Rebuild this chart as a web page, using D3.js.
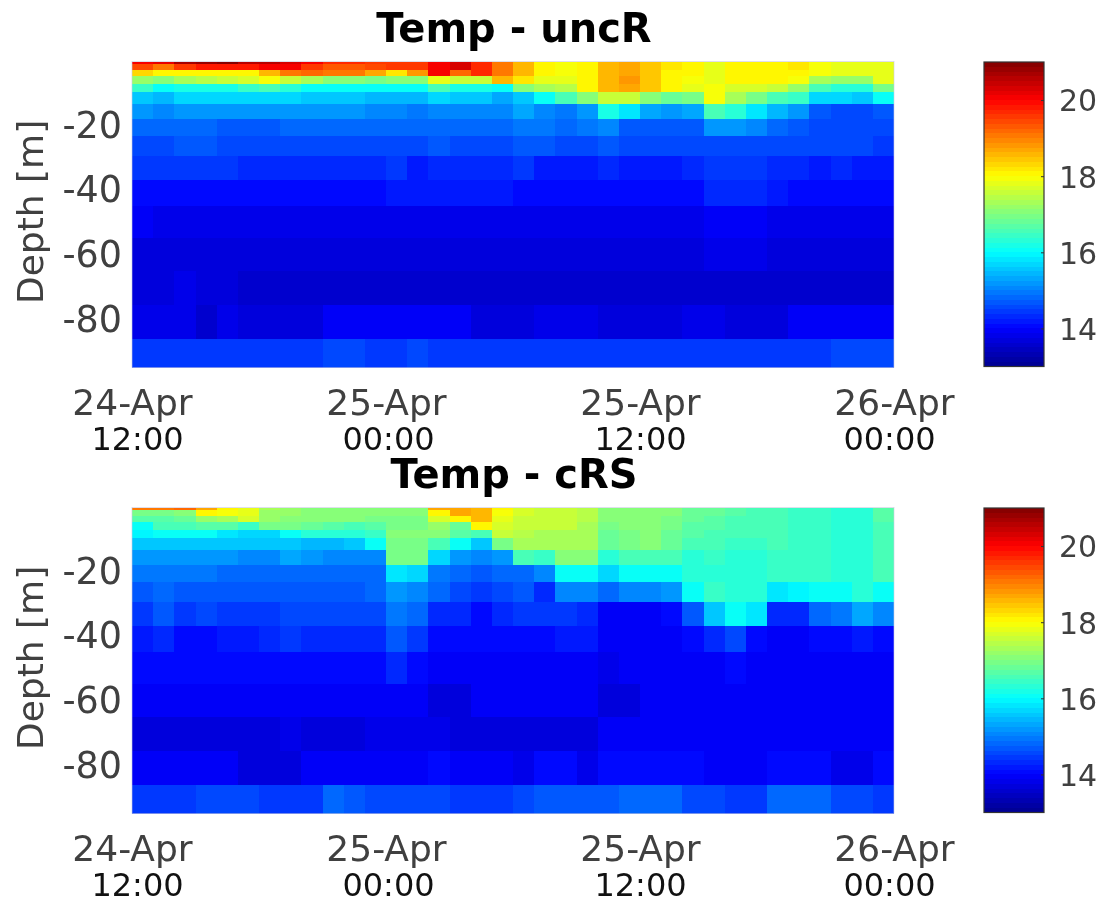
<!DOCTYPE html>
<html>
<head>
<meta charset="utf-8">
<script src="https://cdn.jsdelivr.net/npm/d3@7"></script>
<style>
    html, body { margin: 0; padding: 0; background: #fff; overflow: hidden; }
    svg { display: block; filter: blur(0.7px); }
    text { font-family: "DejaVu Sans", sans-serif; }
</style>
</head>
<body>
<div id="chart"></div>
<script>
// layer edges in metres
const depthEdges = [-0.7, -1.6, -3.3, -5.3, -7.7, -10.2, -13.9, -18.4, -23.6, -29.8, -37.3, -45.5, -55.3, -65.6, -76.1, -86.4, -95.3];
const hoursPerColumn = 1;
const depthTicks = [-20, -40, -60, -80];
const timeTicks = [0, 12, 24, 36];
const dateLabels = ["24-Apr", "25-Apr", "25-Apr", "26-Apr"];
const hourLabels = ["12:00", "00:00", "12:00", "00:00"];
const colorTicks = [14, 16, 18, 20];
const titles = ["Temp - uncR", "Temp - cRS"];

// temperature, one row per layer top to bottom, one value per hour
const tempUncR = [
    [20.1,20.2,20.7,20.8,20.9,20.6,20.5,20.3,20.1,19.7,19.7,19.6,19.6,19.6,20.0,20.3,19.7,19.1,18.6,18.05,17.9,18.0,18.6,18.7,18.4,18.15,18.0,17.85,18.0,18.1,18.1,18.15,17.95,17.85,17.8,17.75],
    [19.4,19.0,19.6,19.8,19.8,19.8,20.0,20.0,19.5,19.3,19.3,19.4,19.5,19.5,20.0,20.3,19.7,19.0,18.6,18.05,17.9,18.0,18.6,18.7,18.4,18.15,18.0,17.85,18.0,18.1,18.1,18.15,17.95,17.85,17.8,17.75],
    [18.3,18.1,18.1,18.0,18.0,18.1,18.6,19.0,19.2,19.1,19.1,18.7,18.2,18.8,20.0,19.2,19.7,19.0,18.6,18.05,17.9,18.0,18.6,18.7,18.4,18.1,18.0,17.85,18.0,18.1,18.1,18.1,17.95,17.85,17.8,17.75],
    [17.2,17.0,17.3,17.4,17.6,17.7,17.9,17.5,17.3,17.1,17.1,16.9,17.1,17.1,17.8,17.5,17.5,18.5,18.2,17.85,17.75,18.0,18.6,18.75,18.4,18.0,17.9,17.85,18.0,18.0,18.0,17.95,17.3,17.2,17.2,17.8],
    [16.4,16.1,16.2,16.2,16.2,16.4,16.5,16.3,16.0,16.0,16.0,16.0,16.0,16.0,16.5,16.2,16.2,16.0,17.1,17.3,17.4,18.0,18.5,18.7,18.4,18.0,17.75,17.9,17.7,17.65,17.55,17.2,16.5,16.3,16.3,16.9],
    [15.6,15.4,15.65,15.65,15.65,15.7,15.7,15.7,15.55,15.55,15.55,15.4,15.4,15.4,15.7,15.55,15.55,15.35,15.6,16.0,16.5,17.0,17.6,17.5,17.1,16.8,16.95,17.9,17.3,16.9,16.6,16.4,15.7,15.7,15.55,16.0],
    [15.15,15.0,15.15,15.15,15.15,15.15,15.15,15.15,15.15,15.15,15.15,15.0,15.05,14.95,15.05,15.05,15.05,15.05,15.25,15.05,14.95,15.2,16.15,15.8,15.35,15.15,15.3,16.5,16.3,15.75,15.45,15.15,14.7,14.6,14.6,14.7],
    [14.85,14.8,14.8,14.8,14.65,14.7,14.7,14.78,14.78,14.78,14.78,14.78,14.78,14.78,14.78,14.78,14.78,14.78,14.95,14.95,14.8,14.9,15.05,14.7,14.65,14.65,14.65,15.15,15.15,15.0,14.8,14.65,14.55,14.55,14.55,14.55],
    [14.55,14.55,14.65,14.65,14.55,14.55,14.55,14.58,14.58,14.58,14.58,14.58,14.58,14.58,14.68,14.55,14.55,14.55,14.72,14.72,14.55,14.55,14.68,14.52,14.52,14.52,14.52,14.62,14.62,14.62,14.52,14.52,14.52,14.52,14.52,14.42],
    [14.38,14.38,14.38,14.38,14.38,14.25,14.25,14.32,14.32,14.32,14.32,14.32,14.42,14.2,14.35,14.35,14.27,14.27,14.38,14.2,14.2,14.2,14.35,14.2,14.2,14.2,14.3,14.4,14.4,14.4,14.3,14.3,14.2,14.28,14.15,14.15],
    [14.05,14.05,14.05,14.05,14.05,14.05,14.05,14.05,14.05,14.05,14.05,14.05,14.13,14.13,14.13,14.13,14.13,14.13,14.08,14.08,14.08,14.08,14.08,14.08,14.08,14.08,14.08,14.28,14.28,14.28,14.15,14.0,14.0,14.1,14.1,14.0],
    [13.98,13.8,13.8,13.8,13.8,13.8,13.8,13.8,13.8,13.8,13.8,13.8,13.8,13.8,13.8,13.8,13.8,13.8,13.8,13.8,13.8,13.8,13.8,13.8,13.8,13.8,13.8,13.98,13.98,13.98,13.8,13.8,13.8,13.8,13.8,13.8],
    [13.7,13.7,13.7,13.7,13.7,13.7,13.7,13.7,13.7,13.7,13.7,13.7,13.7,13.7,13.7,13.7,13.7,13.7,13.7,13.7,13.7,13.7,13.7,13.7,13.7,13.7,13.7,13.85,13.85,13.85,13.7,13.7,13.7,13.7,13.7,13.7],
    [13.65,13.65,13.78,13.65,13.65,13.55,13.55,13.55,13.55,13.55,13.55,13.55,13.55,13.55,13.5,13.5,13.5,13.5,13.5,13.55,13.55,13.55,13.55,13.55,13.55,13.55,13.55,13.55,13.55,13.55,13.55,13.55,13.55,13.55,13.55,13.55],
    [13.78,13.78,13.78,13.62,13.85,13.72,13.72,13.72,13.72,13.88,13.88,13.88,13.88,13.88,13.88,13.88,13.68,13.68,13.65,13.85,13.85,13.85,13.68,13.68,13.68,13.68,13.85,13.85,13.72,13.72,13.72,13.88,13.88,13.88,13.88,13.88],
    [14.4,14.4,14.4,14.4,14.4,14.4,14.4,14.47,14.47,14.58,14.58,14.47,14.47,14.58,14.47,14.47,14.47,14.47,14.47,14.47,14.47,14.47,14.4,14.4,14.4,14.4,14.4,14.4,14.4,14.4,14.4,14.47,14.47,14.62,14.5,14.5]
];

const tempCRS = [
    [19.0,19.1,19.2,18.7,18.0,17.85,17.3,17.2,17.1,17.1,17.1,17.0,17.0,17.0,18.7,18.7,18.5,18.0,17.7,17.6,17.6,17.45,17.1,17.1,17.1,17.0,16.8,16.75,16.7,16.6,16.55,16.45,16.45,16.35,16.35,16.65],
    [16.9,16.9,17.0,18.0,17.9,17.8,17.2,17.2,17.05,17.05,17.05,17.0,17.0,17.0,18.1,18.7,18.5,17.9,17.7,17.6,17.6,17.45,17.1,17.1,17.1,17.0,16.8,16.75,16.7,16.6,16.55,16.45,16.45,16.35,16.35,16.65],
    [16.7,16.7,16.8,17.2,17.3,17.7,17.2,17.1,17.0,17.0,17.0,16.9,16.9,16.9,17.7,18.05,18.5,17.85,17.6,17.55,17.55,17.4,17.0,17.1,17.0,16.95,16.75,16.7,16.6,16.6,16.55,16.45,16.45,16.35,16.35,16.65],
    [16.1,16.5,16.5,16.7,16.7,16.4,16.9,16.9,16.8,16.7,16.6,16.7,16.9,16.9,17.2,16.8,18.0,17.7,17.5,17.5,17.5,17.35,16.9,17.05,17.0,16.9,16.7,16.65,16.55,16.55,16.55,16.45,16.45,16.35,16.35,16.6],
    [15.9,16.1,16.1,16.0,15.8,15.7,15.7,16.0,16.3,16.3,16.3,16.4,17.0,17.0,17.1,16.7,16.6,17.5,17.4,17.3,17.3,17.3,16.8,16.95,17.0,16.85,16.7,16.6,16.5,16.5,16.55,16.45,16.45,16.35,16.35,16.6],
    [15.55,15.55,15.55,15.55,15.55,15.5,15.5,15.55,15.4,15.4,15.5,16.0,16.9,16.9,16.6,16.0,15.6,16.9,17.35,17.25,17.25,17.25,16.75,16.9,17.0,16.85,16.55,16.5,16.4,16.4,16.5,16.45,16.45,16.35,16.35,16.6],
    [15.2,15.2,15.2,15.2,15.2,15.05,15.05,15.3,15.15,15.0,15.0,15.05,16.9,16.9,15.7,15.2,15.0,15.2,16.5,16.4,17.0,17.0,16.35,16.55,16.55,16.5,16.35,16.4,16.35,16.35,16.45,16.45,16.45,16.35,16.35,16.55],
    [14.95,14.95,14.95,14.95,14.8,14.8,14.8,14.82,14.82,14.82,14.82,14.85,15.75,15.65,14.9,14.85,14.7,14.85,14.75,15.1,16.0,16.0,15.65,16.0,16.0,16.0,16.25,16.35,16.35,16.35,16.45,16.45,16.45,16.35,16.35,16.55],
    [14.65,14.8,14.65,14.65,14.65,14.65,14.7,14.72,14.72,14.72,14.72,14.8,15.2,15.05,14.75,14.6,14.45,14.5,14.65,14.25,15.1,15.1,14.85,15.0,15.1,15.2,16.0,16.4,16.3,16.35,15.8,15.9,16.0,16.0,16.3,16.1],
    [14.45,14.65,14.45,14.55,14.4,14.48,14.48,14.55,14.55,14.55,14.55,14.55,14.98,14.85,14.35,14.25,14.08,14.25,14.4,14.4,14.4,14.25,13.95,13.95,13.95,14.05,14.7,15.6,16.0,15.75,14.3,14.3,14.75,14.95,15.25,15.0],
    [14.15,14.3,14.1,14.1,14.2,14.2,14.3,14.4,14.3,14.3,14.3,14.3,14.7,14.4,14.0,14.0,14.0,14.0,14.1,14.0,14.15,14.15,13.9,13.9,13.9,13.9,14.0,14.3,14.55,14.05,13.9,13.9,14.0,14.1,14.2,14.0],
    [14.02,14.02,14.02,14.02,14.02,14.02,14.12,14.12,14.12,14.12,14.12,14.02,14.3,14.02,13.92,13.92,13.92,13.92,13.92,13.92,13.92,13.92,13.75,13.92,13.92,13.92,13.92,13.92,14.0,13.92,13.92,13.92,13.92,13.92,13.92,13.92],
    [13.92,13.92,13.92,13.92,13.92,13.92,13.92,13.92,13.92,13.92,13.92,13.92,13.92,13.92,13.72,13.72,13.92,13.92,13.92,13.92,13.92,13.92,13.7,13.7,13.92,13.92,13.92,13.92,13.92,13.92,13.92,13.92,13.92,13.92,13.92,13.92],
    [13.65,13.65,13.65,13.65,13.65,13.65,13.65,13.85,13.68,13.68,13.68,13.85,13.85,13.85,13.85,13.72,13.72,13.72,13.7,13.7,13.7,13.7,13.9,13.9,13.9,13.9,13.9,13.9,13.9,13.9,13.9,13.9,13.9,13.9,13.9,13.9],
    [13.88,13.88,13.88,13.88,13.88,13.65,13.65,13.65,13.88,13.88,13.88,13.88,13.88,13.88,14.0,13.88,13.88,13.88,13.85,14.0,14.0,13.85,14.0,14.1,14.1,14.1,14.0,13.88,13.88,13.88,14.0,14.0,14.0,13.85,13.85,14.0],
    [14.42,14.42,14.42,14.55,14.55,14.55,14.4,14.4,14.48,14.78,14.65,14.5,14.5,14.5,14.6,14.45,14.45,14.45,14.55,14.65,14.65,14.65,14.65,14.8,14.8,14.8,14.6,14.6,14.45,14.45,14.75,14.75,14.75,14.6,14.5,14.4]
];

const width = 1101, height = 900;
const panelShift = 446;

const svg = d3.select("#chart").append("svg")
    .attr("width", width)
    .attr("height", height);

const x = d3.scaleLinear().domain([0, 36]).range([132, 894]);
const y = d3.scaleLinear().domain([-95.3, -0.7]).range([367.5, 61.5]);
const colorY = d3.scaleLinear().domain([13, 21]).range([366.5, 62]);

// matlab jet, 64 steps
const jet = d3.scaleLinear()
    .domain([0, 0.125, 0.375, 0.625, 0.875, 1])
    .range(["#00008f", "#0000ff", "#00ffff", "#ffff00", "#ff0000", "#800000"]);
const jetLevels = d3.range(64).map(i => jet((i + 0.5) / 64));
const color = d3.scaleQuantize().domain([13, 21]).range(jetLevels);

function drawPanel(values, title, shift) {
    const g = svg.append("g").attr("transform", `translate(0,${shift})`);

    const cells = values.flatMap((row, r) => row.map((v, c) => ({ r, c, v })));
    g.append("g")
        .selectAll("rect")
        .data(cells)
        .join("rect")
        .attr("x", d => x(d.c * hoursPerColumn))
        .attr("y", d => y(depthEdges[d.r]))
        .attr("width", d => x((d.c + 1) * hoursPerColumn) - x(d.c * hoursPerColumn))
        .attr("height", d => y(depthEdges[d.r + 1]) - y(depthEdges[d.r]))
        .attr("fill", d => color(d.v))
        .attr("shape-rendering", "crispEdges");

    g.append("rect")
        .attr("x", x(0)).attr("y", y(-0.7))
        .attr("width", x(36) - x(0)).attr("height", y(-95.3) - y(-0.7))
        .attr("fill", "none")
        .attr("stroke", "#c8c8e0")
        .attr("stroke-width", 0.6);

    const yAxis = g.append("g")
        .attr("transform", `translate(${x(0)},0)`)
        .call(d3.axisLeft(y).tickValues(depthTicks).tickSize(0).tickPadding(10).tickFormat(d => String(d)));
    yAxis.select(".domain").remove();
    yAxis.selectAll("text").attr("font-size", 36.5).attr("fill", "#404040").attr("dy", "0.36em");

    const xAxis = g.append("g")
        .attr("transform", `translate(0,${y(-95.3)})`)
        .call(d3.axisBottom(x).tickValues(timeTicks).tickSize(0).tickFormat(""));
    xAxis.select(".domain").remove();
    xAxis.selectAll(".tick text").remove();
    // the hour line sits slightly inward of the date line in the original
    const hourNudge = [5, 2, 0, -5];
    xAxis.selectAll(".tick").each(function (d, i) {
        const t = d3.select(this);
        t.append("text").attr("y", 47.5).attr("text-anchor", "middle")
            .attr("font-size", 36).attr("fill", "#404040").text(dateLabels[i]);
        t.append("text").attr("x", hourNudge[i]).attr("y", 82.5).attr("text-anchor", "middle")
            .attr("font-size", 32).attr("fill", "#111").text(hourLabels[i]);
    });

    g.append("text")
        .attr("text-anchor", "middle")
        .attr("transform", `translate(30,${y(-47.2)}) rotate(-90)`)
        .attr("dy", "0.36em")
        .attr("font-size", 36)
        .attr("fill", "#404040")
        .text("Depth [m]");

    g.append("text")
        .attr("x", 514)
        .attr("y", 42)
        .attr("text-anchor", "middle")
        .attr("font-size", 40)
        .attr("font-weight", "bold")
        .attr("fill", "#000")
        .text(title);

    // colorbar
    const bar = g.append("g");
    const step = (21 - 13) / jetLevels.length;
    bar.selectAll("rect")
        .data(jetLevels)
        .join("rect")
        .attr("x", 984)
        .attr("width", 60)
        .attr("y", (d, i) => colorY(13 + (i + 1) * step))
        .attr("height", (d, i) => colorY(13 + i * step) - colorY(13 + (i + 1) * step))
        .attr("fill", d => d)
        .attr("shape-rendering", "crispEdges");
    bar.append("rect")
        .attr("x", 984).attr("y", colorY(21))
        .attr("width", 60).attr("height", colorY(13) - colorY(21))
        .attr("fill", "none").attr("stroke", "#333").attr("stroke-width", 1.2);

    const barAxis = bar.append("g")
        .attr("transform", "translate(1044,0)")
        .call(d3.axisRight(colorY).tickValues(colorTicks).tickSize(-3).tickPadding(15));
    barAxis.select(".domain").remove();
    barAxis.selectAll("line").attr("stroke", "#333");
    barAxis.selectAll("text").attr("font-size", 30).attr("fill", "#404040").attr("dy", "0.36em");
}

drawPanel(tempUncR, titles[0], 0);
drawPanel(tempCRS, titles[1], panelShift);
</script>
</body>
</html>
